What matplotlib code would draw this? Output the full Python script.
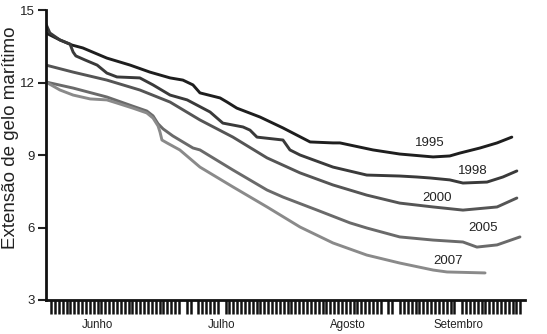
import numpy as np
import matplotlib
matplotlib.use("Agg")
import matplotlib.pyplot as plt
from matplotlib.ticker import FixedLocator, NullFormatter

plt.rcParams["font.family"] = ["Liberation Sans", "DejaVu Sans"]

# dias desde 1 de junho, extensão (milhões de km²)
d_1995 = [-1.3, 2.3, 5.4, 8.2, 14.4, 20.4, 25.5, 30.7, 34.0, 36.6, 38.4, 43.6, 45.4, 47.9,
          53.9, 59.8, 66.8, 72.7, 74.5, 83.0, 89.9, 98.5, 102.8, 105.4, 110.6, 115.0, 118.8]
v_1995 = [14.05, 13.76, 13.55, 13.43, 13.01, 12.72, 12.43, 12.19, 12.10, 11.90, 11.57, 11.36,
          11.19, 10.94, 10.57, 10.12, 9.54, 9.50, 9.50, 9.21, 9.04, 8.92, 8.96, 9.08, 9.29,
          9.50, 9.74]

d_1998 = [-1.3, -0.3, 2.3, 4.9, 5.7, 6.4, 8.8, 11.9, 14.4, 17.0, 22.9, 26.3, 30.7, 35.1, 41.0,
          44.3, 49.5, 51.3, 53.1, 59.8, 61.6, 64.2, 72.7, 81.4, 89.9, 94.3, 97.7, 102.8,
          106.2, 112.4, 116.5, 120.1]
v_1998 = [14.42, 14.05, 13.76, 13.59, 13.26, 13.10, 12.93, 12.72, 12.39, 12.23, 12.19, 11.90,
          11.48, 11.28, 10.78, 10.32, 10.16, 10.03, 9.74, 9.62, 9.21, 9.00, 8.50, 8.17, 8.13,
          8.09, 8.05, 7.97, 7.84, 7.88, 8.09, 8.34]

d_2000 = [-1.3, 5.7, 14.4, 22.9, 30.7, 38.4, 46.9, 55.7, 64.2, 72.7, 81.4, 89.9, 98.5, 106.2,
          115.0, 120.1]
v_2000 = [12.72, 12.43, 12.10, 11.69, 11.19, 10.45, 9.74, 8.88, 8.26, 7.76, 7.34, 7.01, 6.85,
          6.72, 6.85, 7.22]

d_2005 = [-1.3, 5.7, 14.4, 21.1, 24.7, 26.3, 27.6, 28.9, 31.4, 36.6, 38.4, 46.9, 55.7, 59.8,
          68.6, 77.1, 81.4, 89.9, 98.5, 106.2, 109.8, 115.0, 120.9]
v_2005 = [12.02, 11.77, 11.40, 11.02, 10.82, 10.62, 10.29, 10.08, 9.79, 9.29, 9.21, 8.38, 7.55,
          7.26, 6.72, 6.19, 5.98, 5.61, 5.48, 5.40, 5.19, 5.28, 5.61]

d_2007 = [-1.3, 2.3, 5.7, 10.1, 14.4, 17.0, 21.1, 24.7, 26.3, 27.6, 28.1, 28.6, 29.9, 33.2,
          38.4, 46.9, 55.7, 64.2, 72.7, 81.4, 89.9, 98.5, 102.1, 111.9]
v_2007 = [12.02, 11.69, 11.48, 11.32, 11.28, 11.15, 10.94, 10.74, 10.53, 10.20, 9.95, 9.62,
          9.50, 9.21, 8.50, 7.68, 6.85, 6.02, 5.36, 4.86, 4.53, 4.24, 4.16, 4.12]

series = [
    ("1995", d_1995, v_1995, "#1e1e1e", (97.7, 9.50)),
    ("1998", d_1998, v_1998, "#3a3a3a", (108.8, 8.34)),
    ("2000", d_2000, v_2000, "#555555", (99.5, 7.22)),
    ("2005", d_2005, v_2005, "#6a6a6a", (111.3, 5.98)),
    ("2007", d_2007, v_2007, "#8a8a8a", (102.3, 4.61)),
]

meses = ["Junho", "Julho", "Agosto", "Setembro"]
meses_pos = [11.9, 44.0, 76.5, 105.0]
dias = [d for d in range(122) if d not in (34, 37, 86, 89)]

fig = plt.figure(figsize=(5.47, 3.34), dpi=100)
ax = fig.add_axes([46 / 547, 34 / 334, 479 / 547, 290 / 334])

for nome, x, y, cor, (lx, ly) in series:
    ax.plot(x, y, color=cor, lw=2.1, solid_joinstyle="round", solid_capstyle="round")
    ax.text(lx, ly, nome, ha="center", va="center", fontsize=9.5, color="#222222")

ax.set_xlim(-1.29, 122.2)
ax.set_ylim(3, 15)
ax.set_yticks([3, 6, 9, 12, 15])
ax.tick_params(axis="y", direction="out", length=6, width=1.5, labelsize=9.5, pad=2,
               colors="#222222")

ax.xaxis.set_minor_locator(FixedLocator(dias))
ax.xaxis.set_minor_formatter(NullFormatter())
ax.set_xticks(meses_pos)
ax.set_xticklabels(meses)
ax.tick_params(axis="x", which="major", length=0, pad=14, labelsize=8.3, colors="#222222")
ax.tick_params(axis="x", which="minor", direction="out", length=10, width=1.8,
               color="#111111")

for s in ["top", "right"]:
    ax.spines[s].set_visible(False)
for s in ["left", "bottom"]:
    ax.spines[s].set_linewidth(2)
    ax.spines[s].set_color("#111111")

ax.set_ylabel("Extensão de gelo marítimo", fontsize=13.5, color="#222222")
ax.yaxis.set_label_coords(-0.056, 0.56)

fig.savefig("out.png", dpi=100)
